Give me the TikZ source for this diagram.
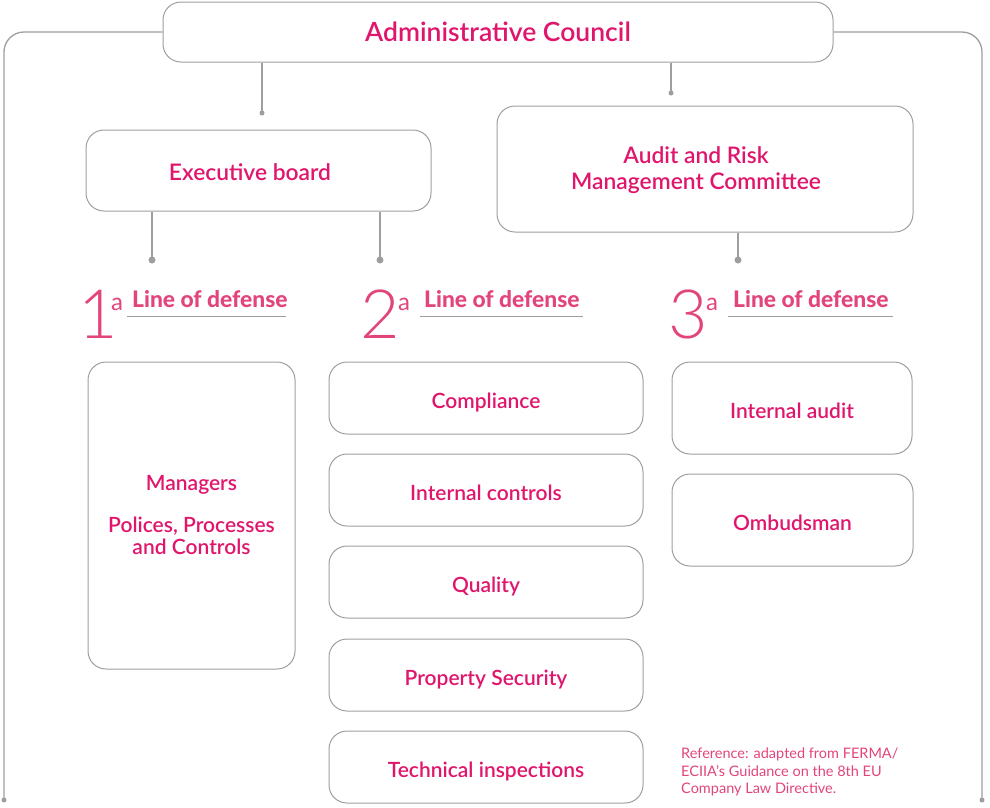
\documentclass[tikz,border=0pt]{standalone}
\usepackage{fontspec}
\setmainfont{Lato}
\newfontfamily\semib{Lato Semibold}
\newfontfamily\lightf{Lato Light}
\newfontfamily\heavyf{Lato Heavy}
\definecolor{pink}{HTML}{E0156C}
\definecolor{lpink}{HTML}{E2447C}
\definecolor{lgray}{HTML}{9E9E9E}
\tikzset{
  box/.style={draw=lgray, line width=1pt, rounded corners=18pt, inner sep=0pt, align=center, text=pink, font=\fontsize{21}{22}\selectfont\semib},
  sbox/.style={box, text height=20pt, text depth=0pt},
  lbl/.style={inner sep=0pt, align=center, text=pink, font=\fontsize{22.8}{26}\selectfont\semib},
  conn/.style={draw=lgray, line width=1.3pt},
  dotsm/.style={fill=lgray, draw=none},
  digit/.style={text=lpink, inner sep=0pt, anchor=base, font=\fontsize{68}{68}\selectfont\lightf},
  supa/.style={text=lpink, inner sep=0pt, anchor=base, font=\fontsize{24}{24}\selectfont},
  lod/.style={text=lpink, inner sep=0pt, anchor=base west, font=\fontsize{22.8}{24}\selectfont\heavyf},
  uline/.style={draw=lgray, line width=1pt}
}
\begin{document}
\begin{tikzpicture}[x=1pt,y=-1pt]
\useasboundingbox (0,0) rectangle (990,807);
% top box
\node[box, minimum width=670, minimum height=60, font=\fontsize{26.5}{28}\selectfont\semib] (admin) at (498,32) {Administrative Council};
\node[box, minimum width=345, minimum height=81] (exec) at (258.5,170.5) {};
\node[lbl] (exectext) at ([xshift=-8.5pt,yshift=-1.5pt]exec.center) {Executive board};
\node[box, minimum width=416, minimum height=126] (audit) at (705,169) {};
\node[lbl] (audittext) at ([xshift=-9pt,yshift=-1pt]audit.center) {Audit and Risk\\Management Committee};
% outer lines
\coordinate (bl) at (4,800);
\coordinate (br) at (982,800);
\draw[conn, rounded corners=20pt] (admin.west) -| (bl);
\draw[conn, rounded corners=20pt] (admin.east) -| (br);
\fill[dotsm] (bl) circle (2.5);
\fill[dotsm] (br) circle (2.5);
% admin connectors
\coordinate (d1) at (262,113);
\coordinate (d2) at (671,93);
\draw[conn] (admin.south -| d1) -- (d1);
\draw[conn] (admin.south -| d2) -- (d2);
\fill[dotsm] (d1) circle (2.5);
\fill[dotsm] (d2) circle (2.5);
% exec/audit connectors
\coordinate (e1) at (152,260);
\coordinate (e2) at (380,260);
\coordinate (e3) at (738,260);
\draw[conn] (exec.south -| e1) -- (e1);
\draw[conn] (exec.south -| e2) -- (e2);
\draw[conn] (audit.south -| e3) -- (e3);
\fill[dotsm] (e1) circle (3.5);
\fill[dotsm] (e2) circle (3.5);
\fill[dotsm] (e3) circle (3.5);
% headings
\node[digit] (n1) at (98,338) {1};
\node[supa] (a1) at (117,310) {a};
\node[lod] (l1) at (132,307) {Line of defense};
\draw[uline] (127,316) -- (286,316);
\node[digit] (n2) at (380,338) {2};
\node[supa] (a2) at (404,310) {a};
\node[lod] (l2) at (424,307) {Line of defense};
\draw[uline] (420,316) -- (583,316);
\node[digit] (n3) at (688,338) {3};
\node[supa] (a3) at (712,310) {a};
\node[lod] (l3) at (733,307) {Line of defense};
\draw[uline] (728,316) -- (893,316);
% first line box
\node[box, minimum width=207, minimum height=307] (mgr) at (191.5,515.5) {Managers\\[20pt]Polices, Processes\\and Controls};
% second line boxes
\node[sbox, minimum width=314, minimum height=72] (comp) at (486,398) {Compliance};
\node[sbox, minimum width=314, minimum height=72] (ic) at (486,490) {Internal controls};
\node[sbox, minimum width=314, minimum height=72] (qual) at (486,582) {Quality};
\node[sbox, minimum width=314, minimum height=72] (prop) at (486,675) {Property Security};
\node[sbox, minimum width=314, minimum height=72] (tech) at (486,767) {Technical inspections};
% third line boxes
\node[sbox, minimum width=240, minimum height=92] (ia) at (792,408) {Internal audit};
\node[sbox, minimum width=241, minimum height=92] (omb) at (792.5,520) {Ombudsman};
% reference
\node[anchor=north west, inner sep=0pt, align=left, text=lpink, font=\fontsize{14.5}{17.5}\selectfont] (ref) at (681,748) {Reference: adapted from FERMA/\\ECIIA's Guidance on the 8th EU\\Company Law Directive.};
\end{tikzpicture}
\end{document}
